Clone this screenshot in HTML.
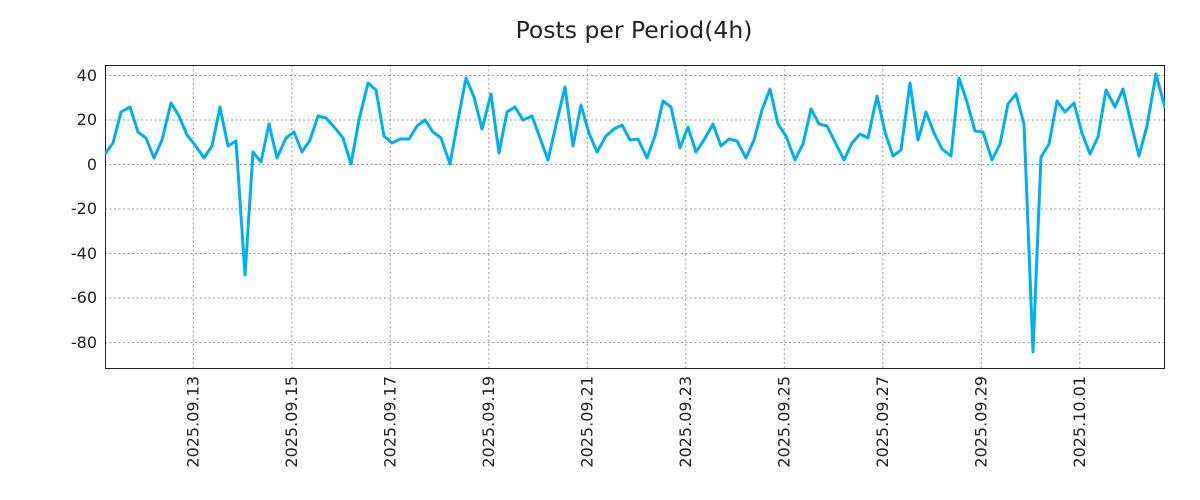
<!DOCTYPE html>
<html><head><meta charset="utf-8"><style>
html,body{margin:0;padding:0;background:#fff;}
svg{display:block;font-family:"DejaVu Sans","Liberation Sans",sans-serif;}
</style></head><body>
<svg width="1200" height="500" viewBox="0 0 1200 500" xmlns="http://www.w3.org/2000/svg">
<rect width="1200" height="500" fill="#fff"/>
<text x="634" y="38" font-size="23.5" text-anchor="middle" fill="#222">Posts per Period(4h)</text>
<g stroke="#999" stroke-width="1" stroke-dasharray="2,2.5">
<line x1="105" x2="1165" y1="75.5" y2="75.5"/><line x1="105" x2="1165" y1="120" y2="120"/>
<line x1="105" x2="1165" y1="164.5" y2="164.5"/><line x1="105" x2="1165" y1="209" y2="209"/>
<line x1="105" x2="1165" y1="253.5" y2="253.5"/><line x1="105" x2="1165" y1="298" y2="298"/>
<line x1="105" x2="1165" y1="342.5" y2="342.5"/>
<line y1="65" y2="369" x1="193.3" x2="193.3"/><line y1="65" y2="369" x1="291.8" x2="291.8"/>
<line y1="65" y2="369" x1="390.3" x2="390.3"/><line y1="65" y2="369" x1="488.8" x2="488.8"/>
<line y1="65" y2="369" x1="587.3" x2="587.3"/><line y1="65" y2="369" x1="685.8" x2="685.8"/>
<line y1="65" y2="369" x1="784.3" x2="784.3"/><line y1="65" y2="369" x1="882.8" x2="882.8"/>
<line y1="65" y2="369" x1="981.3" x2="981.3"/><line y1="65" y2="369" x1="1079.8" x2="1079.8"/>
</g>
<g stroke="#222" stroke-width="1" id="ticks"></g>
<rect x="105.5" y="65.5" width="1059" height="303" fill="none" stroke="#222" stroke-width="1"/>
<g font-size="16" fill="#222" text-anchor="end">
<text x="97" y="81">40</text><text x="97" y="125">20</text><text x="97" y="170">0</text>
<text x="97" y="214">-20</text><text x="97" y="259">-40</text><text x="97" y="303">-60</text><text x="97" y="348">-80</text>
</g>
<g font-size="16" fill="#222" text-anchor="end">
<text transform="translate(198.5,376) rotate(-90)">2025.09.13</text>
<text transform="translate(297,376) rotate(-90)">2025.09.15</text>
<text transform="translate(395.5,376) rotate(-90)">2025.09.17</text>
<text transform="translate(494,376) rotate(-90)">2025.09.19</text>
<text transform="translate(592.5,376) rotate(-90)">2025.09.21</text>
<text transform="translate(691,376) rotate(-90)">2025.09.23</text>
<text transform="translate(789.5,376) rotate(-90)">2025.09.25</text>
<text transform="translate(888,376) rotate(-90)">2025.09.27</text>
<text transform="translate(986.5,376) rotate(-90)">2025.09.29</text>
<text transform="translate(1085,376) rotate(-90)">2025.10.01</text>
</g>
<svg x="105" y="65" width="1060" height="304" viewBox="105 65 1060 304">
<polyline fill="none" stroke="#00b0f0" stroke-width="3" stroke-linejoin="round" points="105,154 113,143 121,112 130,107 138,132 146,138 154,158 162,140 171,103 179,116 187,135 195,145 204,158 212,146 220,107 228,146 236,141 245,275 253,152 261,162 269,124 277,158 286,138 294,132 302,152 310,140 318,116 326,118 335,128 343,138 351,164 359,120 368,83 376,90 384,136 392,143 400,139 409,139 417,126 425,120 433,132 441,138 450,164 458,120 466,78 474,97 482,129 491,94 499,153 507,112 515,107 523,120 532,116 540,138 548,160 556,125 565,87 573,146 581,105 589,133 597,152 606,136 614,129 622,125 630,140 638,139 647,158 655,136 663,101 671,107 680,148 688,127 696,152 704,140 713,124 721,146 729,139 737,141 746,158 754,140 762,110 770,89 778,124 786,136 795,160 803,144 811,109 819,124 827,126 836,144 844,160 852,143 860,134 868,138 877,96 885,132 893,156 901,150 910,83 918,140 926,112 934,133 942,149 951,156 959,78 967,102 975,131 983,132 992,160 1000,144 1008,104 1016,94 1024,124 1033,352 1041,157 1049,144 1057,101 1065,112 1074,103 1082,133 1090,154 1098,137 1106,90 1115,107 1123,89 1131,123 1139,156 1147,126 1156,74 1165,108"/>
</svg>
<script>
var g=document.getElementById('ticks'),s='';
for(var x=119.4;x<1165;x+=24.625){s+='<line x1="'+x+'" x2="'+x+'" y1="65" y2="69"/><line x1="'+x+'" x2="'+x+'" y1="365" y2="369"/>';}
for(var x=193.3;x<1165;x+=98.5){s+='<line x1="'+x+'" x2="'+x+'" y1="369" y2="374"/>';}
var ys=[75.5,120,164.5,209,253.5,298,342.5];
ys.forEach(function(y){s+='<line x1="100" x2="105" y1="'+y+'" y2="'+y+'"/><line x1="1160" x2="1165" y1="'+y+'" y2="'+y+'"/>';});
for(var y=86.6;y<369;y+=22.25){s+='<line x1="105" x2="108" y1="'+y+'" y2="'+y+'"/><line x1="1162" x2="1165" y1="'+y+'" y2="'+y+'"/>';}
g.innerHTML=s;
</script>
</svg>
</body></html>
